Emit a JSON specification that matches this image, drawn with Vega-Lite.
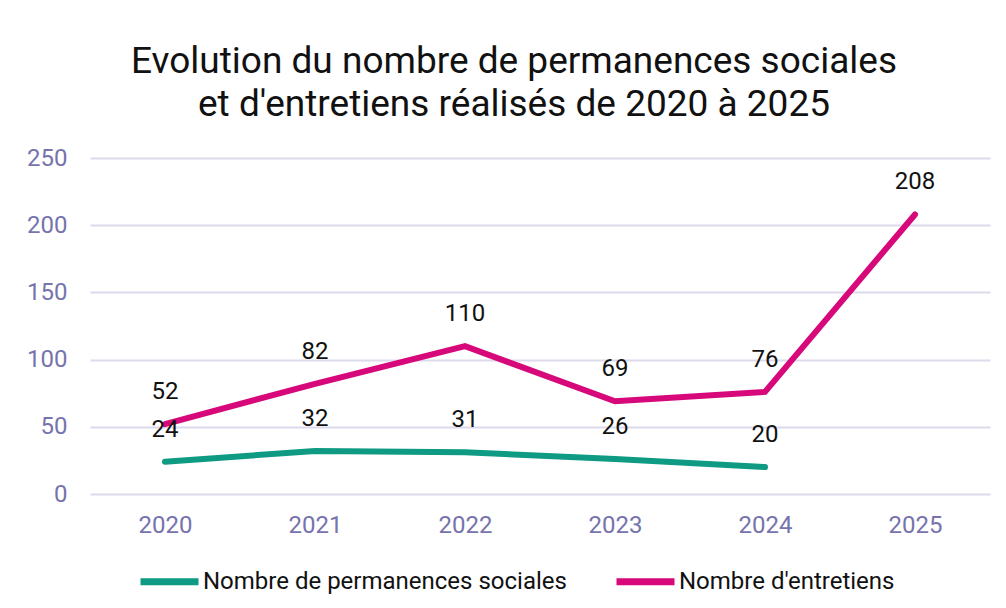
{
  "$schema": "https://vega.github.io/schema/vega-lite/v6.json",
  "autosize": {"type": "none"},
  "width": 900,
  "height": 336,
  "padding": {"left": 90, "top": 158, "right": 16, "bottom": 114},
  "background": "white",
  "title": {
    "text": ["Evolution du nombre de permanences sociales", "et d'entretiens réalisés de 2020 à 2025"],
    "font": "Roboto",
    "fontSize": 37,
    "fontWeight": "normal",
    "color": "#111111",
    "anchor": "middle",
    "dx": -26,
    "offset": 22,
    "lineHeight": 43
  },
  "data": {
    "values": [
      {"annee": "2020", "serie": "Nombre de permanences sociales", "valeur": 24},
      {"annee": "2021", "serie": "Nombre de permanences sociales", "valeur": 32},
      {"annee": "2022", "serie": "Nombre de permanences sociales", "valeur": 31},
      {"annee": "2023", "serie": "Nombre de permanences sociales", "valeur": 26},
      {"annee": "2024", "serie": "Nombre de permanences sociales", "valeur": 20},
      {"annee": "2020", "serie": "Nombre d'entretiens", "valeur": 52},
      {"annee": "2021", "serie": "Nombre d'entretiens", "valeur": 82},
      {"annee": "2022", "serie": "Nombre d'entretiens", "valeur": 110},
      {"annee": "2023", "serie": "Nombre d'entretiens", "valeur": 69},
      {"annee": "2024", "serie": "Nombre d'entretiens", "valeur": 76},
      {"annee": "2025", "serie": "Nombre d'entretiens", "valeur": 208}
    ]
  },
  "encoding": {
    "x": {
      "field": "annee", "type": "ordinal",
      "scale": {"type": "point", "padding": 0.5},
      "axis": {"title": null, "labelAngle": 0, "ticks": false, "domain": false, "labelFont": "Roboto", "labelFontSize": 24, "labelColor": "#7673ad", "labelPadding": 19, "grid": false}
    },
    "y": {
      "field": "valeur", "type": "quantitative",
      "scale": {"domain": [0, 250]},
      "axis": {"title": null, "values": [0, 50, 100, 150, 200, 250], "ticks": false, "domain": false, "labelFont": "Roboto", "labelFontSize": 24, "labelColor": "#7673ad", "labelPadding": 23, "gridColor": "#dcdaec", "gridWidth": 2}
    }
  },
  "layer": [
    {
      "mark": {"type": "line", "strokeWidth": 6, "strokeCap": "round", "strokeJoin": "miter"},
      "encoding": {
        "color": {
          "field": "serie", "type": "nominal",
          "scale": {"domain": ["Nombre de permanences sociales", "Nombre d'entretiens"], "range": ["#0e9a83", "#d6087a"]},
          "legend": {"title": null, "orient": "none", "legendX": 47, "legendY": 391, "padding": 0, "direction": "horizontal", "symbolType": "stroke", "symbolStrokeWidth": 7, "symbolSize": 3364, "labelFont": "Roboto", "labelFontSize": 24, "labelColor": "#111111", "labelLimit": 0, "columnPadding": 35, "labelOffset": 1}
        }
      }
    },
    {
      "mark": {"type": "text", "dy": -32, "font": "Roboto", "fontSize": 24, "color": "#111111"},
      "encoding": {"text": {"field": "valeur", "type": "quantitative"}}
    }
  ],
  "config": {"view": {"stroke": null}}
}
